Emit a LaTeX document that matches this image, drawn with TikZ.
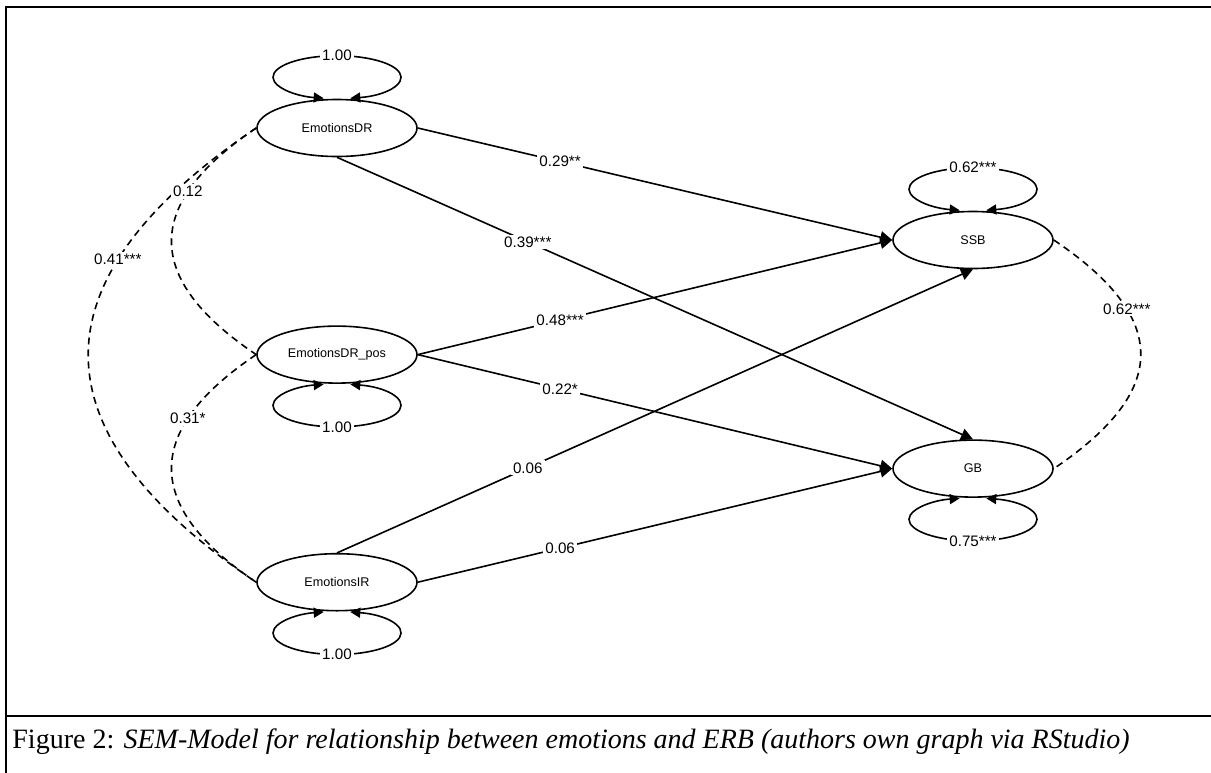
\documentclass[tikz,border=0pt]{standalone}
\usepackage{fontspec}
\setmainfont{Liberation Serif}
\setsansfont{Liberation Sans}
\usetikzlibrary{positioning,shapes.geometric,arrows.meta}

\begin{document}
\begin{tikzpicture}[x=0.5pt,y=-0.5pt,
    latent/.style={draw, ellipse, line width=0.8pt,
        minimum width=80pt, minimum height=28.5pt, inner sep=0pt,
        font=\sffamily\fontsize{6.3}{7}\selectfont},
    coef/.style={fill=white, inner sep=1pt,
        font=\sffamily\fontsize{7.6}{8}\selectfont},
    path/.style={line width=0.8pt, -{Stealth[length=6pt,width=6pt,inset=0pt]}},
    resid/.style={line width=0.8pt,
        {Stealth[length=5pt,width=5pt,inset=0pt]}-{Stealth[length=5pt,width=5pt,inset=0pt]}},
    cov/.style={line width=0.8pt, dash pattern=on 3.5pt off 2.5pt}]

    \useasboundingbox (0,0) rectangle (1211,772);

    % frame and caption
    \draw[line width=1pt] (6,780) -- (6,7) -- (1220,7);
    \draw[line width=1pt] (6,716) -- (1220,716);
    \node[anchor=west, inner sep=0pt, font=\fontsize{14}{16}\selectfont]
        (caption) at (12,742)
        {Figure 2: \textit{SEM-Model for relationship between emotions and ERB (authors own graph via RStudio)}};

    % latent variables
    \node[latent] (dr) at (337,128) {EmotionsDR};
    \node[latent, below=84pt of dr] (drpos) {EmotionsDR\_pos};
    \node[latent, below=84.5pt of drpos] (ir) {EmotionsIR};
    \node[latent] (ssb) at (973,240) {SSB};
    \node[latent, below=85pt of ssb] (gb) {GB};

    % regression paths
    \draw[path] (dr.east) -- (ssb.west)
        node[coef, pos=0.3]{0.29**};
    \draw[path] (dr.south) -- (gb.north)
        node[coef, pos=0.3]{0.39***};
    \draw[path] (drpos.east) -- (ssb.west)
        node[coef, pos=0.3]{0.48***};
    \draw[path] (drpos.east) -- (gb.west)
        node[coef, pos=0.3]{0.22*};
    \draw[path] (ir.north) -- (ssb.south)
        node[coef, pos=0.3]{0.06};
    \draw[path] (ir.east) -- (gb.west)
        node[coef, pos=0.3]{0.06};

    % covariances
    \draw[cov] (dr.west) .. controls +(-224,151) and +(-224,-151) .. (ir.west)
        node[coef, pos=0.29]{0.41***};
    \draw[cov] (dr.west) .. controls +(-113,76) and +(-113,-76) .. (drpos.west)
        node[coef, pos=0.28]{0.12};
    \draw[cov] (drpos.west) .. controls +(-113,76) and +(-113,-76) .. (ir.west)
        node[coef, pos=0.28]{0.31*};
    \draw[cov] (ssb.east) .. controls +(116,78) and +(116,-78) .. (gb.east)
        node[coef, pos=0.3]{0.62***};

    % residual variances
    \draw[resid] ([shift={(-78:32pt and 10.75pt)}, yshift=10.75pt]dr.north)
        arc[start angle=-78, end angle=258, x radius=32pt, y radius=10.75pt];
    \node[coef] (drvar) at ([yshift=21.5pt]dr.north) {1.00};

    \draw[resid] ([shift={(78:32pt and 10.75pt)}, yshift=-10.75pt]drpos.south)
        arc[start angle=78, end angle=-258, x radius=32pt, y radius=10.75pt];
    \node[coef] (drposvar) at ([yshift=-21.5pt]drpos.south) {1.00};

    \draw[resid] ([shift={(78:32pt and 10.75pt)}, yshift=-10.75pt]ir.south)
        arc[start angle=78, end angle=-258, x radius=32pt, y radius=10.75pt];
    \node[coef] (irvar) at ([yshift=-21.5pt]ir.south) {1.00};

    \draw[resid] ([shift={(-78:32pt and 10.75pt)}, yshift=10.75pt]ssb.north)
        arc[start angle=-78, end angle=258, x radius=32pt, y radius=10.75pt];
    \node[coef] (ssbvar) at ([yshift=21.5pt]ssb.north) {0.62***};

    \draw[resid] ([shift={(78:32pt and 10.75pt)}, yshift=-10.75pt]gb.south)
        arc[start angle=78, end angle=-258, x radius=32pt, y radius=10.75pt];
    \node[coef] (gbvar) at ([yshift=-21.5pt]gb.south) {0.75***};

\end{tikzpicture}
\end{document}
